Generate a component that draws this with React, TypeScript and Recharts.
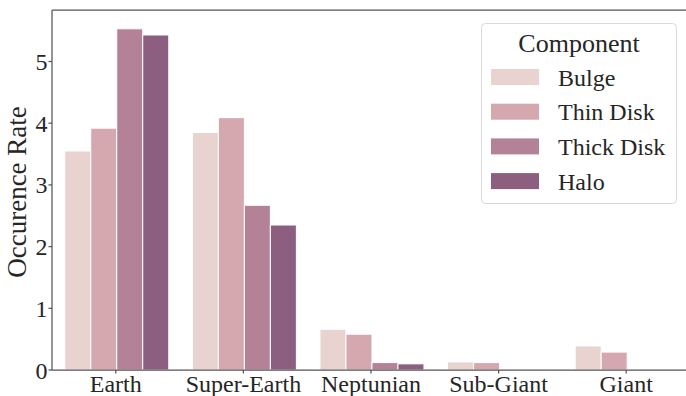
import { BarChart, Bar, XAxis, YAxis, Legend, ReferenceLine, Label } from "recharts";

// planet classes along the x axis
const planetTypes = ["Earth", "Super-Earth", "Neptunian", "Sub-Giant", "Giant"];

// occurrence rate per galactic component
const bulge = [3.55, 3.85, 0.66, 0.13, 0.39];
const thinDisk = [3.92, 4.09, 0.58, 0.12, 0.29];
const thickDisk = [5.53, 2.67, 0.12, 0, 0.01];
const halo = [5.43, 2.35, 0.1, 0, 0.01];

const yTicks = [0, 1, 2, 3, 4, 5];
const Y_MAX = 5.835;

const series = [
  { key: "bulge", name: "Bulge", color: "#e8d3d0" },
  { key: "thinDisk", name: "Thin Disk", color: "#d4a8ae" },
  { key: "thickDisk", name: "Thick Disk", color: "#b48297" },
  { key: "halo", name: "Halo", color: "#8c5e80" },
];

const data = planetTypes.map((type, i) => ({
  type,
  bulge: bulge[i],
  thinDisk: thinDisk[i],
  thickDisk: thickDisk[i],
  halo: halo[i],
}));

const FONT = "'Liberation Serif', 'Times New Roman', serif";
const AXIS = "#555555";
const TEXT = "#262626";

// legend keeps the series order (recharts would sort the payload by name)
function ComponentLegend() {
  return (
    <svg width={196} height={181} style={{ display: "block" }}>
      <rect x={0.5} y={0.5} width={195} height={180} rx={4} fill="#fff" stroke="#d9d9d9" />
      <text x={98} y={29} textAnchor="middle" fontSize={26} fontFamily={FONT} fill={TEXT}>
        Component
      </text>
      {series.map((s, i) => {
        const cy = 54 + i * 34.7;
        return (
          <g key={s.key}>
            <rect x={10} y={cy - 8} width={48} height={16} fill={s.color} />
            <text x={77} y={cy + 8.5} fontSize={24} fontFamily={FONT} fill={TEXT}>
              {s.name}
            </text>
          </g>
        );
      })}
    </svg>
  );
}

export default function App() {
  return (
    <div style={{ position: "absolute", left: 0, top: 0, width: 686, height: 396, overflow: "hidden", background: "#fff" }}>
      <BarChart
        width={690}
        height={396}
        data={data}
        margin={{ top: 10, right: 0, left: 0, bottom: 0 }}
        barCategoryGap="10%"
        barGap={0}
      >
        <XAxis
          dataKey="type"
          height={26}
          tick={{ fill: TEXT, fontSize: 24, fontFamily: FONT }}
          tickSize={3.5}
          tickMargin={1}
          axisLine={{ stroke: AXIS, strokeWidth: 1.25 }}
          tickLine={{ stroke: AXIS, strokeWidth: 1.25 }}
        />
        <YAxis
          width={52}
          domain={[0, Y_MAX]}
          ticks={yTicks}
          tick={{ fill: TEXT, fontSize: 24, fontFamily: FONT }}
          tickSize={3.5}
          tickMargin={1}
          axisLine={{ stroke: AXIS, strokeWidth: 1.25 }}
          tickLine={{ stroke: AXIS, strokeWidth: 1.25 }}
        >
          <Label
            content={({ viewBox }: any) => {
              const cy = viewBox.y + viewBox.height / 2 + 2;
              return (
                <text
                  x={26}
                  y={cy}
                  transform={`rotate(-90, 26, ${cy})`}
                  textAnchor="middle"
                  fontSize={27}
                  fontFamily={FONT}
                  fill={TEXT}
                >
                  Occurence Rate
                </text>
              );
            }}
          />
        </YAxis>
        <ReferenceLine y={Y_MAX} stroke={AXIS} strokeWidth={1.25} ifOverflow="extendDomain" />
        {series.map((s) => (
          <Bar
            key={s.key}
            dataKey={s.key}
            name={s.name}
            fill={s.color}
            stroke="#ffffff"
            strokeWidth={1}
            isAnimationActive={false}
          />
        ))}
        <Legend
          layout="vertical"
          align="center"
          verticalAlign="middle"
          content={<ComponentLegend />}
          wrapperStyle={{ position: "absolute", left: 481, top: 23, width: 196, height: 181 }}
        />
      </BarChart>
    </div>
  );
}
